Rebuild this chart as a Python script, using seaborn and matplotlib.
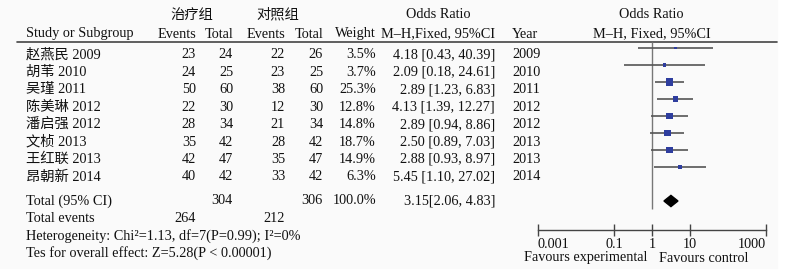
import matplotlib
matplotlib.use('Agg')
import matplotlib.pyplot as plt
import seaborn as sns
import pandas as pd
from matplotlib.ticker import NullLocator

# study data
studies = ['赵燕民 2009', '胡苇 2010', '吴瑾 2011', '陈美琳 2012',
           '潘启强 2012', '文桢 2013', '王红联 2013', '昂朝新 2014']
exp_events = [23, 24, 50, 22, 28, 35, 42, 40]
exp_total = [24, 25, 60, 30, 34, 42, 47, 42]
ctl_events = [22, 23, 38, 12, 21, 28, 35, 33]
ctl_total = [26, 25, 60, 30, 34, 42, 47, 42]
weights = [3.5, 3.7, 25.3, 12.8, 14.8, 18.7, 14.9, 6.3]
odds = [4.18, 2.09, 2.89, 4.13, 2.89, 2.50, 2.88, 5.45]
ci_lo = [0.43, 0.18, 1.23, 1.39, 0.94, 0.89, 0.93, 1.10]
ci_hi = [40.39, 24.61, 6.83, 12.27, 8.86, 7.03, 8.97, 27.02]
years = [2009, 2010, 2011, 2012, 2012, 2013, 2013, 2014]

total_or, total_lo, total_hi = 3.15, 2.06, 4.83
total_n = [304, 306]
total_events = [264, 212]
xticks = [0.001, 0.1, 1, 10, 1000]
xtick_labels = ['0.001', '0.1', '1', '10', '1000']

df = pd.DataFrame({'study': studies, 'or': odds, 'lo': ci_lo, 'hi': ci_hi,
                   'weight': weights, 'row': range(len(studies))})

sns.set_style('white')
plt.rcParams['font.family'] = ['Liberation Serif', 'Noto Sans CJK SC']
plt.rcParams['font.size'] = 10.3

fig = plt.figure(figsize=(8.08, 2.74), dpi=100)

# full-figure axes in pixel units for the table text
bg = fig.add_axes([0, 0, 1, 1])
bg.set_xlim(0, 808)
bg.set_ylim(274, 0)
bg.axis('off')
bg.add_patch(plt.Rectangle((0, 0), 777, 268, color='#fafafa', zorder=0))

txt = '#111111'
# headers
bg.text(192, 15, '治疗组', ha='center', va='center', color=txt)
bg.text(278, 15, '对照组', ha='center', va='center', color=txt)
bg.text(438, 15, 'Odds Ratio', ha='center', va='center', color=txt)
bg.text(651, 15, 'Odds Ratio', ha='center', va='center', color=txt)
bg.text(26, 34, 'Study or Subgroup', ha='left', va='center', color=txt)
bg.text(196, 34, 'Events', ha='right', va='center', color=txt)
bg.text(233, 34, 'Total', ha='right', va='center', color=txt)
bg.text(285, 34, 'Events', ha='right', va='center', color=txt)
bg.text(323, 34, 'Total', ha='right', va='center', color=txt)
bg.text(376, 34, 'Weight', ha='right', va='center', color=txt)
bg.text(495, 34, 'M–H,Fixed, 95%CI', ha='right', va='center', color=txt)
bg.text(512, 34, 'Year', ha='left', va='center', color=txt)
bg.text(652, 34, 'M–H, Fixed, 95%CI', ha='center', va='center', color=txt)
bg.plot([17, 777], [42, 42], color='#444444', lw=1.2)

# study rows
for i in range(len(studies)):
    y = 55 + 17.4 * i
    bg.text(26, y, studies[i], ha='left', va='center', color=txt)
    bg.text(196, y, str(exp_events[i]), ha='right', va='center', color=txt)
    bg.text(233, y, str(exp_total[i]), ha='right', va='center', color=txt)
    bg.text(285, y, str(ctl_events[i]), ha='right', va='center', color=txt)
    bg.text(323, y, str(ctl_total[i]), ha='right', va='center', color=txt)
    bg.text(376, y, f'{weights[i]:.1f}%', ha='right', va='center', color=txt)
    bg.text(495, y, f'{odds[i]:.2f} [{ci_lo[i]:.2f}, {ci_hi[i]:.2f}]',
            ha='right', va='center', color=txt)
    bg.text(512, y, str(years[i]), ha='left', va='center', color=txt)

# totals
bg.text(26, 201, 'Total (95% CI)', ha='left', va='center', color=txt)
bg.text(233, 201, str(total_n[0]), ha='right', va='center', color=txt)
bg.text(323, 201, str(total_n[1]), ha='right', va='center', color=txt)
bg.text(376, 201, f'{sum(weights):.1f}%', ha='right', va='center', color=txt)
bg.text(495, 201, f'{total_or:.2f}[{total_lo:.2f}, {total_hi:.2f}]',
        ha='right', va='center', color=txt)
bg.text(26, 218, 'Total events', ha='left', va='center', color=txt)
bg.text(196, 218, str(total_events[0]), ha='right', va='center', color=txt)
bg.text(285, 218, str(total_events[1]), ha='right', va='center', color=txt)
bg.text(26, 236, 'Heterogeneity: Chi²=1.13, df=7(P=0.99); I²=0%',
        ha='left', va='center', color=txt)
bg.text(26, 253, 'Tes for overall effect: Z=5.28(P < 0.00001)',
        ha='left', va='center', color=txt)
bg.text(647, 258, 'Favours experimental', ha='right', va='center', color=txt)
bg.text(659, 258, 'Favours control', ha='left', va='center', color=txt)

# forest panel
fa = fig.add_axes([538 / 808, 1 - 230 / 274, 228 / 808, 188 / 274])
fa.patch.set_alpha(0)
fa.set_xscale('log')
fa.vlines(1, -0.353, 9.5, color='#777777', lw=1)
fa.hlines(df['row'], df['lo'], df['hi'], color='#555555', lw=1.2)
sns.scatterplot(data=df, x='or', y='row', size='weight',
                sizes=(0, 25.3 * 1.3), size_norm=(0, 25.3),
                marker='s', color='#2e3d9e', edgecolor='none',
                legend=False, ax=fa, zorder=3)
dy = 0.33
fa.fill([total_lo, total_or, total_hi, total_or], [9, 9 - dy, 9, 9 + dy],
        color='black', zorder=3)

fa.set_xlim(0.001, 1000)
fa.set_ylim(10.706, -0.353)
fa.set_xticks(xticks)
fa.set_xticklabels(xtick_labels)
fa.xaxis.set_minor_locator(NullLocator())
fa.set_yticks([])
fa.set_xlabel('')
fa.set_ylabel('')
for s in ['top', 'left', 'right']:
    fa.spines[s].set_visible(False)
fa.spines['bottom'].set_color('#444444')
fa.spines['bottom'].set_linewidth(1)
fa.tick_params(axis='x', direction='inout', length=8, width=1,
               color='#444444', pad=2, labelsize=10.3, labelcolor=txt,
               bottom=True)
labels = fa.get_xticklabels()
labels[0].set_ha('left')
labels[-1].set_ha('right')

fig.savefig('out.png', dpi=100)
